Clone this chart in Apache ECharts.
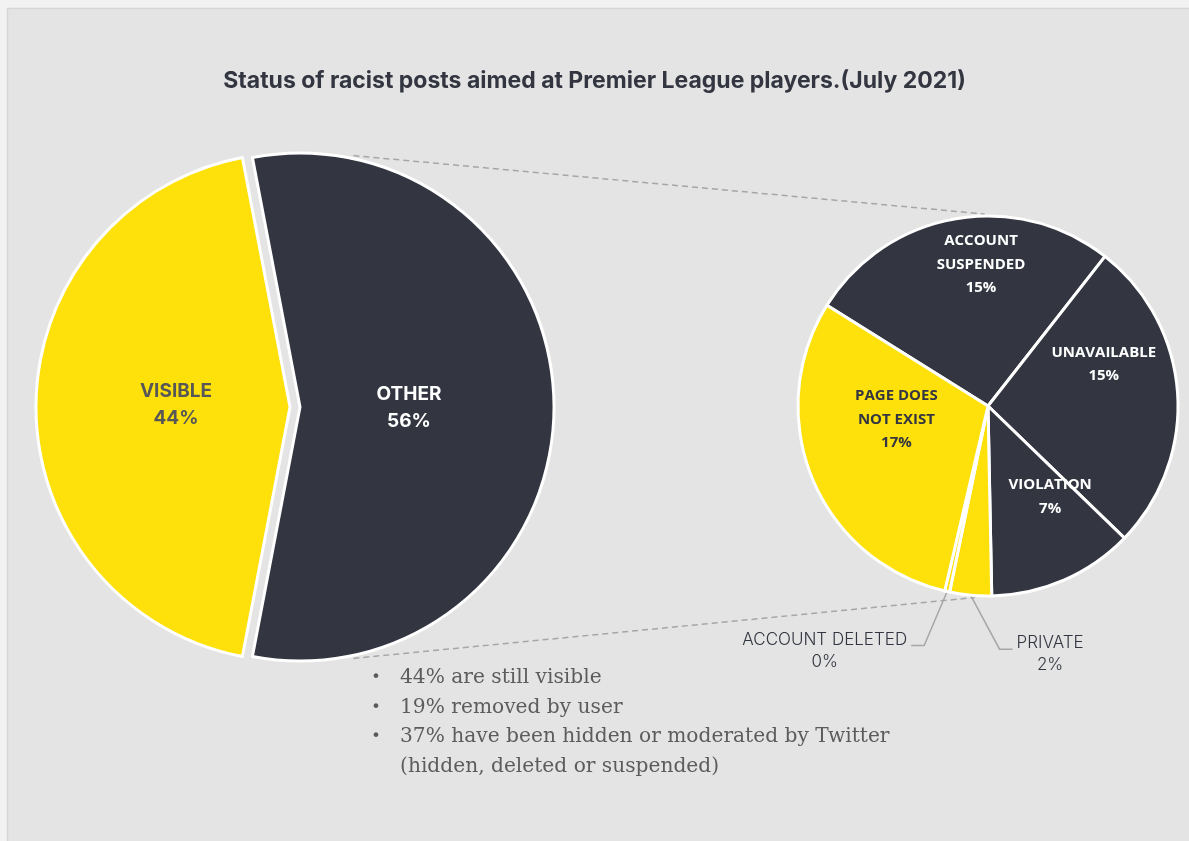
<!DOCTYPE html>
<html>
<head>
<meta charset="utf-8">
<script src="https://cdn.jsdelivr.net/npm/echarts@6/dist/echarts.min.js"></script>
<style>
  html, body { margin: 0; padding: 0; background: #f2f2f2; }
  #chart { width: 1189px; height: 841px; }
</style>
</head>
<body>
<div id="chart"></div>
<script>
// Status of racist posts (share of all posts, %)
const mainNames = ['VISIBLE', 'OTHER'];
const mainValues = [44, 56];

// Breakdown of the OTHER share (still % of all posts)
const detailNames = ['ACCOUNT SUSPENDED', 'UNAVAILABLE', 'VIOLATION', 'PRIVATE', 'ACCOUNT DELETED', 'PAGE DOES NOT EXIST'];
const detailValues = [15, 15, 7, 2, 0, 17];
// who removed the post: Twitter moderation or the user
const detailGroups = ['twitter', 'twitter', 'twitter', 'user', 'user', 'user'];

const notes = [
  '44% are still visible',
  '19% removed by user',
  '37% have been hidden or moderated by Twitter\n(hidden, deleted or suspended)'
];

const YELLOW = '#FEE00A';
const DARK = '#333641';
const GREY_LINE = '#a6a6a6';

// pie geometry (px)
const bigCenter = [290, 407], bigRadius = 254, explode = 10;
const smallCenter = [988, 406], smallRadius = 190;

// nudges for labels sitting inside slices
const labelNudge = {
  'VISIBLE': [16, -2],
  'OTHER': [-21, 1],
  'ACCOUNT SUSPENDED': [10, -45],
  'UNAVAILABLE': [18, -35],
  'VIOLATION': [23, 1],
  'PAGE DOES NOT EXIST': [-1, -24]
};

// greedy word wrap for the labels drawn inside slices
function wrapName(name, maxChars) {
  const lines = [];
  let cur = '';
  name.split(' ').forEach(w => {
    if (cur && (cur + ' ' + w).length > maxChars) { lines.push(cur); cur = w; }
    else { cur = cur ? cur + ' ' + w : w; }
  });
  if (cur) lines.push(cur);
  return lines.join('\n');
}

const chart = echarts.init(document.getElementById('chart'), null, { renderer: 'canvas' });

// VISIBLE is centred on the left side of the big pie
const visibleAngle = mainValues[0] / (mainValues[0] + mainValues[1]) * 360;
const bigStart = 180 + visibleAngle / 2;

const bigData = mainNames.map((name, i) => {
  const isOther = name === 'OTHER';
  const color = isOther ? DARK : YELLOW;
  const item = {
    name: name,
    value: mainValues[i],
    itemStyle: { color: color },
    label: { color: isOther ? '#ffffff' : '#575757' }
  };
  if (isOther) {
    item.selected = true;
    item.select = { itemStyle: { color: color, borderColor: '#ffffff', borderWidth: 3 }, label: { color: '#ffffff' } };
  }
  return item;
});

const smallData = detailNames.map((name, i) => {
  const byUser = detailGroups[i] === 'user';
  const tiny = detailValues[i] < 5;
  return {
    name: name,
    value: detailValues[i],
    itemStyle: { color: byUser ? YELLOW : DARK },
    label: tiny ? {
      position: 'outside',
      formatter: '{b}\n{c}%',
      fontFamily: 'Inter',
      fontWeight: 300,
      fontSize: 17,
      lineHeight: 22,
      color: DARK
    } : {
      position: 'inside',
      color: byUser ? DARK : '#ffffff'
    },
    labelLine: { show: tiny }
  };
});

function polar(c, r, deg) {
  const a = deg * Math.PI / 180;
  return [c[0] + r * Math.cos(a), c[1] - r * Math.sin(a)];
}

const otherCenter = [bigCenter[0] + explode, bigCenter[1]];
const topA = polar(otherCenter, bigRadius + 3, 78);
const topB = polar(smallCenter, smallRadius + 2, 91);
const botA = polar(otherCenter, bigRadius + 3, -78);
const botB = polar(smallCenter, smallRadius + 2, -94);

// bullet notes
const noteElements = [];
let lineIdx = 0;
notes.forEach(note => {
  note.split('\n').forEach((line, j) => {
    const y = 678 + lineIdx * 29.5;
    if (j === 0) {
      noteElements.push({
        type: 'text', x: 376, y: y, z: 5,
        style: { text: '•', fill: '#5a5a5a', font: '16px "DejaVu Sans"', textAlign: 'center', textVerticalAlign: 'middle' }
      });
    }
    noteElements.push({
      type: 'text', x: 400, y: y, z: 5,
      style: { text: line, fill: '#5c5c5c', font: '20.2px "DejaVu Serif"', textAlign: 'left', textVerticalAlign: 'middle' }
    });
    lineIdx++;
  });
});

const option = {
  backgroundColor: '#f2f2f2',
  animation: false,
  title: {
    text: 'Status of racist posts aimed at Premier League players.(July 2021)',
    left: 'center',
    top: 65,
    textStyle: { fontFamily: 'Inter', fontWeight: 'bold', fontSize: 23, color: DARK }
  },
  graphic: [
    {
      type: 'rect', z: 0, silent: true,
      shape: { x: 7.5, y: 8.5, width: 1200, height: 850 },
      style: { fill: '#e3e4e3', stroke: '#d6d6d6', lineWidth: 1.5 }
    },
    {
      type: 'line', z: 1, silent: true,
      shape: { x1: topA[0], y1: topA[1], x2: topB[0], y2: topB[1] },
      style: { stroke: GREY_LINE, lineWidth: 1.5, lineDash: [6, 4] }
    },
    {
      type: 'line', z: 1, silent: true,
      shape: { x1: botA[0], y1: botA[1], x2: botB[0], y2: botB[1] },
      style: { stroke: GREY_LINE, lineWidth: 1.5, lineDash: [6, 4] }
    }
  ].concat(noteElements),
  series: [
    {
      type: 'pie',
      silent: true,
      center: bigCenter,
      radius: bigRadius,
      startAngle: bigStart,
      clockwise: true,
      selectedMode: 'single',
      selectedOffset: explode,
      avoidLabelOverlap: false,
      emphasis: { disabled: true },
      itemStyle: { borderColor: '#ffffff', borderWidth: 3 },
      label: {
        show: true,
        position: 'inside',
        formatter: '{b}\n{c}%',
        fontFamily: 'Inter',
        fontWeight: 'bold',
        fontSize: 19,
        lineHeight: 27
      },
      labelLine: { show: false },
      labelLayout: function (p) {
        const n = labelNudge[mainNames[p.dataIndex]] || [0, 0];
        return { dx: n[0], dy: n[1] };
      },
      data: bigData
    },
    {
      type: 'pie',
      silent: true,
      center: smallCenter,
      radius: smallRadius,
      startAngle: 148,
      clockwise: true,
      minAngle: 1.5,
      avoidLabelOverlap: false,
      emphasis: { disabled: true },
      itemStyle: { borderColor: '#ffffff', borderWidth: 3 },
      label: {
        show: true,
        formatter: function (p) { return wrapName(p.name, 10) + '\n' + p.value + '%'; },
        fontFamily: 'Open Sans',
        fontWeight: 'bold',
        fontSize: 15,
        lineHeight: 23.5
      },
      labelLine: {
        length: 20,
        length2: 14,
        lineStyle: { color: GREY_LINE, width: 1.5 }
      },
      labelLayout: function (p) {
        const name = detailNames[p.dataIndex];
        if (detailValues[p.dataIndex] >= 5) {
          const n = labelNudge[name] || [0, 0];
          return { dx: n[0], dy: n[1] };
        }
        // elbow leader lines: left for the empty slice, right for the small one
        const pts = p.labelLinePoints;
        if (!pts || !pts.length) return {};
        const p0 = pts[0];
        const side = detailValues[p.dataIndex] === 0 ? -1 : 1;
        const p1 = [p0[0] + side * (side > 0 ? 29 : 23), p0[1] + 54];
        const p2 = [p1[0] + side * 13, p1[1]];
        const w = p.labelRect.width;
        return {
          x: p2[0] + side * (4 + w / 2),
          y: p2[1] - 17,
          align: 'center',
          verticalAlign: 'top',
          labelLinePoints: [p0, p1, p2]
        };
      },
      data: smallData
    }
  ]
};

chart.setOption(option);
</script>
</body>
</html>
